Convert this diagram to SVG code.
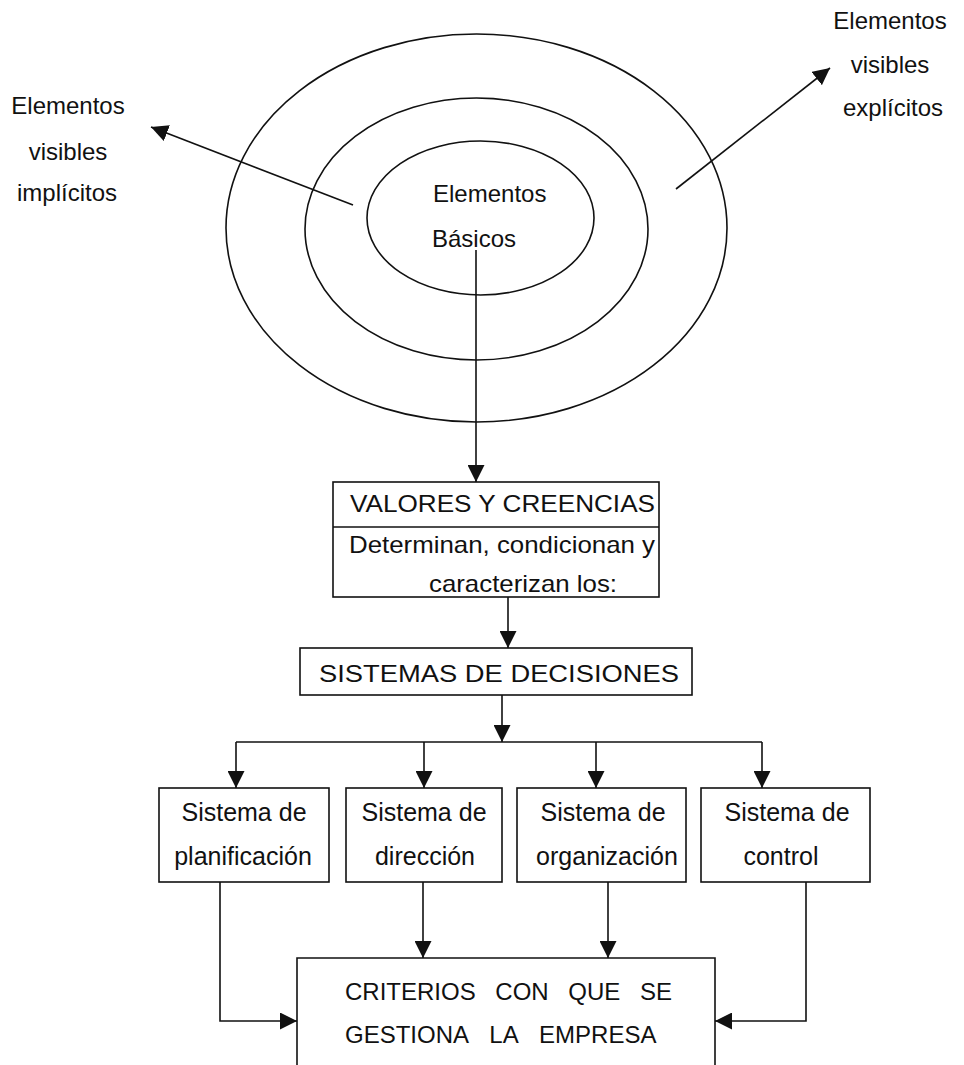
<svg xmlns="http://www.w3.org/2000/svg" width="964" height="1065" viewBox="0 0 964 1065">
<defs>
<style>
text{font-family:"Liberation Sans",Arial,sans-serif;font-size:24px;fill:#111}
.m{text-anchor:middle}
.b{font-size:25px}
.sh{fill:none;stroke:#111;stroke-width:1.6}
.ln{fill:none;stroke:#111;stroke-width:1.6}
.ar{marker-end:url(#ah)}
</style>
<marker id="ah" viewBox="0 0 17 17" refX="17" refY="8.5" markerWidth="17" markerHeight="17" orient="auto" markerUnits="userSpaceOnUse">
<path d="M0,0 L17,8.5 L0,17 Z" fill="#111"/>
</marker>
</defs>
<rect width="964" height="1065" fill="#fff"/>

<g id="ellipses">
<ellipse class="sh" cx="476.5" cy="228" rx="250.5" ry="194"/>
<ellipse class="sh" cx="476.5" cy="229" rx="171.5" ry="131"/>
<ellipse class="sh" cx="480.5" cy="218" rx="113.5" ry="77"/>
<text x="433" y="202">Elementos</text>
<text x="432" y="247">Básicos</text>
</g>

<g id="label-implicitos">
<text class="m" x="68" y="114">Elementos</text>
<text class="m" x="68" y="160">visibles</text>
<text class="m" x="67" y="201">implícitos</text>
</g>

<g id="label-explicitos">
<text class="m" x="890" y="29">Elementos</text>
<text class="m" x="890" y="73">visibles</text>
<text class="m" x="893" y="116">explícitos</text>
</g>

<g id="valores">
<rect class="sh" x="333" y="482" width="326" height="115"/>
<line class="sh" x1="333" y1="527" x2="659" y2="527"/>
<text x="350" y="512" textLength="305" lengthAdjust="spacingAndGlyphs">VALORES Y CREENCIAS</text>
<text x="349" y="553" textLength="306" lengthAdjust="spacingAndGlyphs">Determinan, condicionan y</text>
<text x="429" y="592" textLength="188" lengthAdjust="spacingAndGlyphs">caracterizan los:</text>
</g>

<g id="sistemas-decisiones">
<rect class="sh" x="300" y="648" width="392" height="47"/>
<text class="m" x="499" y="682" textLength="360" lengthAdjust="spacingAndGlyphs">SISTEMAS DE DECISIONES</text>
</g>

<g id="planificacion">
<rect class="sh" x="159" y="788" width="170" height="94"/>
<text class="m b" x="244" y="821">Sistema de</text>
<text class="m b" x="243" y="865">planificación</text>
</g>
<g id="direccion">
<rect class="sh" x="346" y="788" width="156" height="94"/>
<text class="m b" x="424" y="821">Sistema de</text>
<text class="m b" x="425" y="865">dirección</text>
</g>
<g id="organizacion">
<rect class="sh" x="517" y="788" width="169" height="94"/>
<text class="m b" x="603" y="821">Sistema de</text>
<text class="m b" x="607" y="865">organización</text>
</g>
<g id="control">
<rect class="sh" x="701" y="788" width="169" height="94"/>
<text class="m b" x="787" y="821">Sistema de</text>
<text class="m b" x="781" y="865">control</text>
</g>

<g id="criterios">
<path class="sh" d="M297,1080 V958 H715 V1080"/>
<text x="345" y="1000" style="word-spacing:13px">CRITERIOS CON QUE SE</text>
<text x="345" y="1043" style="word-spacing:15px">GESTIONA LA EMPRESA</text>
</g>

<g id="connectors">
<line class="ln ar" x1="353" y1="205" x2="151" y2="127"/>
<line class="ln ar" x1="676" y1="189" x2="830" y2="68"/>
<line class="ln ar" x1="476" y1="250" x2="476" y2="482"/>
<line class="ln ar" x1="508" y1="597" x2="508" y2="648"/>
<line class="ln ar" x1="502" y1="695" x2="502" y2="742"/>
<line class="ln" x1="236" y1="742" x2="762" y2="742"/>
<line class="ln ar" x1="236" y1="742" x2="236" y2="788"/>
<line class="ln ar" x1="424" y1="742" x2="424" y2="788"/>
<line class="ln ar" x1="596" y1="742" x2="596" y2="788"/>
<line class="ln ar" x1="762" y1="742" x2="762" y2="788"/>
<polyline class="ln ar" points="220,882 220,1021 297,1021"/>
<line class="ln ar" x1="423" y1="882" x2="423" y2="958"/>
<line class="ln ar" x1="608" y1="882" x2="608" y2="958"/>
<polyline class="ln ar" points="806,882 806,1021 715,1021"/>
</g>
</svg>
